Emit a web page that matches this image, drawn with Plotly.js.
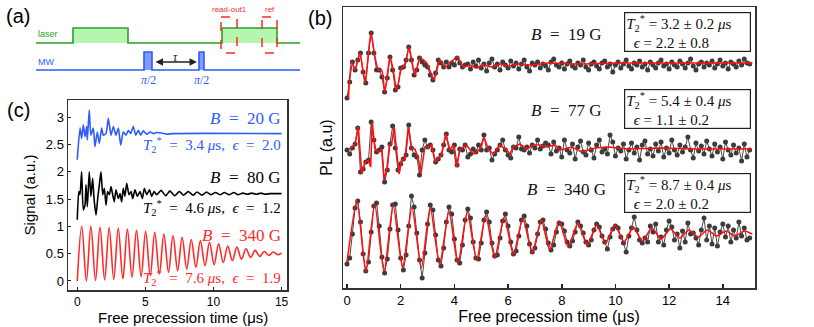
<!DOCTYPE html>
<html>
<head>
<meta charset="utf-8">
<script src="https://cdn.plot.ly/plotly-3.0.1.min.js"></script>
<style>
  html, body { margin: 0; padding: 0; background: #fff; }
  #chart { width: 814px; height: 327px; }
</style>
</head>
<body>
<div id="chart"></div>
<script>
// ---------- panel (b): measured PL (sampled every 0.1 us) and fits ----------
const dt = 0.1; // sampling step of the measurement, us

const pl19 = [202, 218, 238, 230, 240, 247, 228, 217, 247, 267, 247, 230, 230, 223, 208, 222, 243, 230, 210, 213,
  232, 233, 240, 253, 240, 225, 230, 242, 238, 235, 233, 225, 220, 227, 240, 237, 233, 238, 233, 237,
  235, 242, 237, 233, 235, 236, 231, 238, 234, 240, 232, 236, 229, 237, 241, 233, 236, 230, 238, 235,
  232, 239, 234, 237, 231, 236, 240, 233, 229, 237, 235, 238, 232, 236, 234, 230, 238, 241, 235, 233,
  237, 231, 236, 239, 234, 232, 237, 235, 240, 233, 230, 236, 238, 234, 231, 237, 239, 233, 236, 228,
  235, 238, 232, 236, 240, 234, 231, 237, 235, 239, 233, 236, 230, 238, 235, 232, 237, 240, 234, 236,
  231, 238, 235, 233, 239, 236, 232, 237, 241, 234, 230, 236, 238, 233, 237, 235, 239, 232, 236, 240,
  234, 237, 231, 238, 236, 233, 239, 235, 241, 237, 236];

const pl77 = [150, 146, 152, 156, 172, 128, 131, 138, 140, 178, 160, 148, 150, 153, 118, 130, 156, 174, 152, 130,
  136, 141, 145, 175, 152, 145, 143, 125, 150, 160, 153, 155, 150, 138, 141, 145, 155, 166, 150, 148,
  155, 135, 151, 150, 155, 143, 146, 151, 148, 155, 150, 165, 150, 152, 140, 146, 150, 155, 160, 150,
  145, 142, 153, 152, 163, 151, 150, 153, 147, 155, 152, 160, 151, 154, 157, 155, 146, 158, 149, 152,
  143, 160, 150, 147, 156, 141, 153, 159, 148, 145, 157, 150, 142, 155, 160, 148, 151, 146, 165, 158,
  144, 152, 149, 156, 141, 150, 157, 147, 153, 140, 155, 159, 146, 151, 144, 156, 149, 158, 143, 152,
  147, 160, 150, 145, 155, 148, 153, 163, 150, 142, 157, 149, 154, 146, 159, 151, 144, 156, 148, 153,
  141, 158, 150, 145, 155, 147, 152, 139, 156, 143, 150];

const pl340 = [36, 42, 66, 92, 99, 78, 46, 29, 38, 68, 94, 97, 74, 43, 27, 41, 71, 95, 96, 70,
  42, 30, 45, 74, 104, 93, 67, 40, 22, 47, 76, 95, 90, 65, 40, 34, 52, 78, 93, 86,
  61, 40, 37, 55, 80, 91, 82, 58, 42, 41, 57, 80, 88, 78, 57, 44, 45, 62, 79, 86,
  74, 58, 46, 49, 64, 80, 84, 74, 56, 48, 52, 66, 78, 80, 71, 57, 50, 55, 68, 77,
  76, 69, 58, 54, 59, 68, 78, 74, 67, 58, 55, 60, 70, 76, 73, 64, 58, 51, 63, 71,
  74, 72, 63, 57, 48, 64, 72, 83, 70, 60, 57, 62, 58, 74, 68, 76, 58, 63, 55, 70,
  79, 73, 60, 66, 52, 69, 58, 77, 66, 67, 62, 55, 70, 82, 60, 74, 56, 72, 54, 68,
  76, 63, 74, 58, 70, 62, 78, 64, 72, 60, 62];

const fit19T = [0.05, 0.17, 0.30, 0.48, 0.67, 0.89, 1.04, 1.17, 1.29, 1.41, 1.60, 1.72, 1.85, 2.03, 2.16, 2.31,
  2.53, 2.72, 2.97, 3.24, 3.46, 3.65, 3.83, 4.11, 4.33, 4.58, 4.83, 5.07, 5.4, 5.7, 6.0, 6.4, 6.9, 7.5, 8.5, 10, 12, 15.1];
const fit19V = [202, 238, 230, 247, 217, 267, 243, 230, 230, 208, 243, 230, 210, 232, 235, 253,
  225, 242, 237, 220, 240, 233, 237, 243, 233, 235, 232, 235, 233, 236, 234, 236, 235, 237, 236, 237, 237, 237];

const fit77T = [0.05, 0.30, 0.42, 0.55, 0.67, 0.79, 0.88, 0.94, 1.04, 1.17, 1.29, 1.38, 1.48, 1.58, 1.66, 1.76,
  1.85, 1.94, 2.03, 2.16, 2.28, 2.41, 2.53, 2.66, 2.75, 2.90, 3.03, 3.15, 3.28, 3.40, 3.52, 3.68, 3.83, 3.96,
  4.08, 4.21, 4.45, 4.70, 4.95, 5.10, 5.26, 5.45, 5.69, 5.94, 6.07, 6.19, 6.44, 6.69, 6.94, 7.18, 7.43, 7.75,
  7.93, 8.37, 8.74, 9.24, 9.73, 10.48, 11.72, 12.96, 15.07];
const fit77V = [150, 156, 173, 126, 138, 140, 133, 178, 151, 148, 151, 120, 130, 155, 156, 173,
  148, 126, 140, 141, 173, 151, 151, 141, 126, 153, 153, 155, 138, 141, 145, 166, 150, 155,
  133, 151, 155, 146, 151, 163, 151, 146, 155, 150, 146, 153, 156, 151, 155, 155, 153, 155,
  150, 153, 148, 152, 153, 151, 152, 151, 151];

const fit340T = [0, 0.37, 0.7, 1.03, 1.38, 1.72, 2.07, 2.42, 2.77, 3.1, 3.45, 3.8, 4.13, 4.48, 4.83, 5.17,
  5.5, 5.86, 6.2, 6.55, 6.9, 7.24, 7.55, 7.9, 8.24, 8.6, 8.95, 9.3, 9.63, 9.98, 10.32, 10.67, 11.0, 11.36,
  11.7, 12.05, 12.4, 12.74, 13.08, 13.43, 13.77, 14.12, 14.46, 14.8, 15.1];
const fit340V = [38, 100, 28, 96, 28, 95, 32, 93, 32, 93, 35, 89, 36, 88, 40, 85,
  42, 83, 45, 82, 47, 80, 50, 79, 53, 77, 55, 75, 57, 75, 58, 73, 59, 72,
  61, 71, 62, 70, 63, 70, 64, 69, 64, 69, 66];

const bLabels = ['<i>B</i>&nbsp; = &nbsp;19 G', '<i>B</i>&nbsp; = &nbsp;77 G', '<i>B</i>&nbsp; = &nbsp;340 G'];
const bFits = [
  '<i>T</i><sub>2</sub><sup>*</sup> = 3.2 ± 0.2 <i>μ</i>s<br>  <i>ϵ</i> = 2.2 ± 0.8',
  '<i>T</i><sub>2</sub><sup>*</sup> = 5.4 ± 0.4 <i>μ</i>s<br>  <i>ϵ</i> = 1.1 ± 0.2',
  '<i>T</i><sub>2</sub><sup>*</sup> = 8.7 ± 0.4 <i>μ</i>s<br>  <i>ϵ</i> = 2.0 ± 0.2'
];

// ---------- panel (c): simulated signal ----------
const sim20T = [0, 0.2, 0.32, 0.44, 0.57, 0.69, 0.74, 0.88, 1.0, 1.18, 1.3, 1.47, 1.62, 1.79, 1.91, 2.11, 2.28,
  2.48, 2.65, 2.84, 3.02, 3.19, 3.38, 3.58, 3.75, 3.92, 4.12, 4.29, 4.49, 4.66, 4.85, 5.1, 5.34, 5.59, 5.83,
  6.2, 6.6, 7.0, 15.0];
const sim20S = [2.22, 2.80, 2.61, 2.86, 2.64, 2.83, 2.58, 3.13, 2.67, 2.80, 2.46, 2.73, 2.52, 2.80, 2.67, 2.70, 2.98,
  2.67, 2.83, 2.67, 2.80, 2.49, 2.73, 2.67, 2.76, 2.70, 2.83, 2.67, 2.76, 2.67, 2.75, 2.69, 2.73, 2.70, 2.72,
  2.71, 2.69, 2.70, 2.70];

const sim80T = [0, 0.11, 0.2, 0.32, 0.44, 0.57, 0.64, 0.74, 0.88, 1.0, 1.13, 1.23, 1.38, 1.5, 1.62, 1.74, 1.87,
  1.99, 2.11, 2.23, 2.36, 2.48, 2.6, 2.72, 2.84, 3.02, 3.14, 3.26, 3.38, 3.5, 3.63, 3.8, 3.95, 4.07, 4.24,
  4.41, 4.61, 4.78, 4.93, 5.1, 5.3, 5.47, 5.64, 5.83, 6.15, 6.5, 6.8, 7.15, 7.5, 7.8, 8.15, 8.5, 8.8, 9.15,
  9.5, 9.8, 10.15, 10.5, 10.8, 11.15, 11.5, 11.8, 12.15, 12.5, 12.8, 13.15, 13.5, 13.8, 14.15, 14.5, 15];
const sim80S = [1.12, 1.64, 1.58, 2.0, 1.30, 1.39, 1.76, 1.36, 2.0, 1.55, 1.88, 1.51, 1.21, 1.51, 1.76, 2.0, 1.58,
  1.70, 1.39, 1.64, 1.58, 1.73, 1.58, 1.45, 1.67, 1.51, 1.60, 1.45, 1.70, 1.55, 1.79, 1.58, 1.64, 1.51, 1.67,
  1.55, 1.64, 1.51, 1.70, 1.58, 1.67, 1.55, 1.64, 1.58, 1.66, 1.56, 1.65, 1.56, 1.64, 1.57, 1.64, 1.57, 1.63, 1.57,
  1.63, 1.58, 1.62, 1.58, 1.62, 1.58, 1.62, 1.58, 1.61, 1.59, 1.61, 1.59, 1.61, 1.59, 1.60, 1.60, 1.60];

const sim340T = [0, 0.33, 0.67, 1.0, 1.34, 1.67, 2.01, 2.34, 2.68, 3.01, 3.35, 3.68, 4.02, 4.35, 4.69, 5.02,
  5.36, 5.69, 6.03, 6.36, 6.70, 7.03, 7.37, 7.70, 8.04, 8.37, 8.71, 9.04, 9.38, 9.71, 10.05, 10.38, 10.72,
  11.05, 11.39, 11.72, 12.06, 12.39, 12.73, 13.06, 13.40, 13.73, 14.07, 14.40, 14.74, 15.0];
const sim340S = [0, 1.0, 0.0, 1.0, 0.01, 0.99, 0.02, 0.98, 0.03, 0.97, 0.04, 0.95, 0.07, 0.93, 0.08, 0.91,
  0.10, 0.89, 0.13, 0.86, 0.16, 0.83, 0.19, 0.80, 0.22, 0.76, 0.25, 0.74, 0.28, 0.71, 0.30, 0.68, 0.34,
  0.64, 0.37, 0.62, 0.40, 0.59, 0.43, 0.56, 0.45, 0.54, 0.47, 0.53, 0.48, 0.51];

const cLabels = ['<i>B</i>&nbsp; = &nbsp;20 G', '<i>B</i>&nbsp; = &nbsp;80 G', '<i>B</i>&nbsp; = &nbsp;340 G'];
const cFits = [
  '<i>T</i><sub>2</sub><sup>*</sup>&nbsp; = &nbsp;3.4 <i>μ</i>s, &nbsp;<i>ϵ</i>&nbsp; = &nbsp;2.0',
  '<i>T</i><sub>2</sub><sup>*</sup>&nbsp; = &nbsp;4.6 <i>μ</i>s, &nbsp;<i>ϵ</i>&nbsp; = &nbsp;1.2',
  '<i>T</i><sub>2</sub><sup>*</sup>&nbsp; = &nbsp;7.6 <i>μ</i>s, &nbsp;<i>ϵ</i>&nbsp; = &nbsp;1.9'
];

// ---------- panel (a): pulse sequence, in diagram units ----------
const laserX = [36, 73, 73, 128, 128, 222, 222, 277, 277, 300];
const laserY = [43, 43, 28, 28, 43, 43, 28, 28, 43, 43];
const laserPulses = [[73, 128], [222, 277]];
const mwX = [36, 144, 144, 152, 152, 199, 199, 204, 204, 300];
const mwY = [70, 70, 52, 52, 70, 70, 52, 52, 70, 70];
const mwPulses = [[144, 152], [199, 204]];
const windows = [[221, 237], [262, 277]];
const windowNames = ['read-out1', 'ref'];

const GREEN = '#2aa02a', BLUE = '#2f5bff', RED = '#ff2a2a';
const SANS = 'Liberation Sans, Arial, sans-serif';
const SERIF = 'Liberation Serif, Times New Roman, serif';
const W = 814, H = 327;
const fx = p => p / W;
const fy = p => 1 - p / H;

const times = arr => arr.map((_, i) => +(i * dt).toFixed(2));

const data = [];

// panel (b)
[pl19, pl77, pl340].forEach(v => {
  data.push({
    x: times(v), y: v, type: 'scatter', mode: 'lines+markers', xaxis: 'x', yaxis: 'y',
    line: { color: '#4a4a4a', width: 1 },
    marker: { color: '#3c3c3c', size: 5 }
  });
});
[[fit19T, fit19V, 'spline'], [fit77T, fit77V, 'linear'], [fit340T, fit340V, 'spline']].forEach(f => {
  data.push({
    x: f[0], y: f[1], type: 'scatter', mode: 'lines', xaxis: 'x', yaxis: 'y',
    line: { color: '#ff1010', width: 1.6, shape: f[2], smoothing: 0.6 }
  });
});

// panel (c)
[[sim20T, sim20S, BLUE, 0.5], [sim80T, sim80S, '#000', 0.5], [sim340T, sim340S, RED, 1]].forEach(c => {
  data.push({
    x: c[0], y: c[1], type: 'scatter', mode: 'lines', xaxis: 'x2', yaxis: 'y2',
    line: { color: c[2], width: 1.6, shape: 'spline', smoothing: c[3] }
  });
});

// panel (a)
laserPulses.forEach(p => {
  data.push({
    x: [p[0], p[0], p[1], p[1]], y: [43, 28, 28, 43], type: 'scatter', mode: 'lines',
    fill: 'toself', fillcolor: '#b5f5b0', line: { width: 0 }, xaxis: 'x3', yaxis: 'y3'
  });
});
mwPulses.forEach(p => {
  data.push({
    x: [p[0], p[0], p[1], p[1]], y: [70, 52, 52, 70], type: 'scatter', mode: 'lines',
    fill: 'toself', fillcolor: '#7f9cff', line: { width: 0 }, xaxis: 'x3', yaxis: 'y3'
  });
});
data.push({ x: laserX, y: laserY, type: 'scatter', mode: 'lines', line: { color: GREEN, width: 1.6 }, xaxis: 'x3', yaxis: 'y3' });
data.push({ x: mwX, y: mwY, type: 'scatter', mode: 'lines', line: { color: BLUE, width: 1.6 }, xaxis: 'x3', yaxis: 'y3' });

const annotations = [];
const shapes = [];

// panel letters
[['(a)', 18, 16], ['(b)', 320, 18], ['(c)', 18, 110]].forEach(l => {
  annotations.push({ xref: 'paper', yref: 'paper', x: fx(l[1]), y: fy(l[2]), xanchor: 'center', yanchor: 'middle',
    text: l[0], showarrow: false, font: { family: SANS, size: 20, color: '#000' } });
});

// panel (c) x title, sits closer to the ticks than plotly's axis title
annotations.push({ xref: 'paper', yref: 'paper', x: fx(183), y: fy(317), xanchor: 'center', yanchor: 'middle',
  text: 'Free precession time (μs)', showarrow: false, font: { family: SANS, size: 15, color: '#000' } });

// panel (b) labels
const bLabelY = [266, 190, 111];
const bBoxY = [268.5, 191.5, 107.5];
bLabels.forEach((t, i) => {
  annotations.push({ xref: 'x', yref: 'y', x: 8.16, y: bLabelY[i], text: t, showarrow: false,
    font: { family: SERIF, size: 17, color: '#111' } });
  annotations.push({ xref: 'x', yref: 'y', x: 12.7, y: bBoxY[i], text: bFits[i], showarrow: false,
    align: 'left', width: 123, height: 36, bordercolor: '#222', borderwidth: 1.2, borderpad: 1,
    bgcolor: '#fff', font: { family: SERIF, size: 15, color: '#111' } });
});

// panel (c) labels
const cCol = [BLUE, '#000', RED];
const cLabelY = [2.97, 1.90, 0.84];
const cFitY = [2.49, 1.34, 0.05];
cLabels.forEach((t, i) => {
  annotations.push({ xref: 'x2', yref: 'y2', x: 15.1, y: cLabelY[i], xanchor: 'right', text: t, showarrow: false,
    font: { family: SERIF, size: 17, color: cCol[i] } });
  annotations.push({ xref: 'x2', yref: 'y2', x: 15.1, y: cFitY[i], xanchor: 'right', text: cFits[i], showarrow: false,
    font: { family: SERIF, size: 15, color: cCol[i] } });
});

// panel (a) labels
annotations.push({ xref: 'x3', yref: 'y3', x: 36, y: 34, xanchor: 'left', yanchor: 'middle', text: 'laser', showarrow: false,
  font: { family: SANS, size: 9, color: GREEN } });
annotations.push({ xref: 'x3', yref: 'y3', x: 36, y: 62, xanchor: 'left', yanchor: 'middle', text: 'MW', showarrow: false,
  font: { family: SANS, size: 9, color: BLUE } });
mwPulses.forEach(p => {
  annotations.push({ xref: 'x3', yref: 'y3', x: (p[0] + p[1]) / 2, y: 80, text: '<i>π</i>/2', showarrow: false,
    font: { family: SERIF, size: 12, color: BLUE } });
});
annotations.push({ xref: 'x3', yref: 'y3', axref: 'x3', ayref: 'y3', x: mwPulses[1][0] - 2, y: 62,
  ax: mwPulses[0][1] + 2, ay: 62, text: '', showarrow: true, arrowside: 'end+start', arrowhead: 2,
  arrowsize: 1, arrowwidth: 1.5, arrowcolor: '#222' });
annotations.push({ xref: 'x3', yref: 'y3', x: 175, y: 57, text: '<i>τ</i>', showarrow: false,
  font: { family: SERIF, size: 12, color: '#111' } });
windows.forEach((w, i) => {
  shapes.push({ type: 'rect', xref: 'x3', yref: 'y3', x0: w[0], x1: w[1], y0: 17, y1: 53,
    line: { color: RED, width: 1.5, dash: 'dash' } });
  annotations.push({ xref: 'x3', yref: 'y3', x: (w[0] + w[1]) / 2, y: 9, text: windowNames[i], showarrow: false,
    font: { family: SANS, size: 8, color: RED } });
});

const frame = { showline: true, mirror: true, linecolor: '#333', linewidth: 1.5, showgrid: false, zeroline: false };

const layout = {
  width: W, height: H,
  margin: { l: 0, r: 0, t: 0, b: 0, pad: 0 },
  paper_bgcolor: '#fff', plot_bgcolor: '#fff',
  showlegend: false,
  font: { family: SANS, size: 13, color: '#000' },
  xaxis: Object.assign({}, frame, {
    domain: [fx(343), fx(755)], range: [-0.15, 15.2], anchor: 'y',
    tickvals: [0, 2, 4, 6, 8, 10, 12, 14], ticks: 'inside', ticklen: 4, tickwidth: 1.5, tickcolor: '#222',
    tickfont: { size: 13 },
    title: { text: 'Free precession time (μs)', font: { size: 16 }, standoff: 2 }
  }),
  yaxis: Object.assign({}, frame, {
    domain: [fy(288), fy(7)], range: [12, 293], anchor: 'x',
    showticklabels: false, ticks: '',
    title: { text: 'PL (a.u)', font: { size: 16 }, standoff: 5 }
  }),
  xaxis2: Object.assign({}, frame, {
    domain: [fx(68), fx(287)], range: [-0.68, 15.4], anchor: 'y2',
    tickvals: [0, 5, 10, 15], ticks: 'inside', ticklen: 3, tickwidth: 1, tickcolor: '#222',
    tickfont: { size: 12 }
  }),
  yaxis2: Object.assign({}, frame, {
    domain: [fy(290), fy(100)], range: [-0.165, 3.315], anchor: 'x2',
    tickvals: [0, 0.5, 1, 1.5, 2, 2.5, 3], ticks: 'inside', ticklen: 3, tickwidth: 1, tickcolor: '#222',
    tickfont: { size: 13 },
    title: { text: 'Signal (a.u.)', font: { size: 15 }, standoff: 6 }
  }),
  xaxis3: { domain: [0, fx(300)], range: [0, 300], anchor: 'y3', visible: false, fixedrange: true },
  yaxis3: { domain: [fy(90), 1], range: [90, 0], anchor: 'x3', visible: false, fixedrange: true },
  annotations: annotations,
  shapes: shapes
};

Plotly.newPlot('chart', data, layout, { displayModeBar: false, staticPlot: true });
</script>
</body>
</html>
